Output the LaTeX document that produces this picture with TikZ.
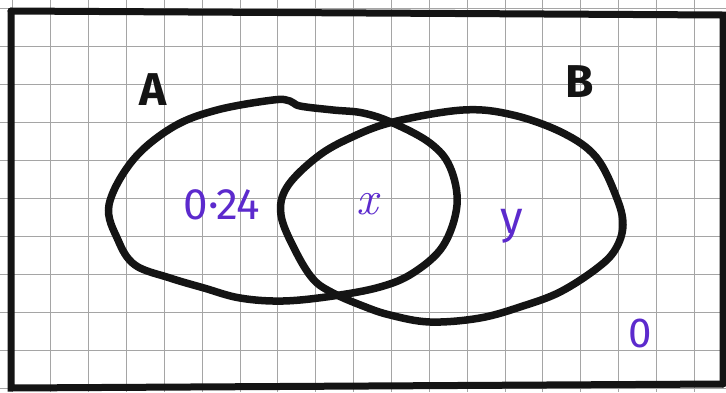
\documentclass[tikz,border=0pt]{standalone}
\usepackage{fontspec}
\setsansfont{Fira Sans}
\definecolor{ink}{RGB}{20,20,20}
\definecolor{pen}{RGB}{92,42,205}
\definecolor{gridc}{RGB}{165,165,165}
\tikzset{
  setline/.style={draw=ink, line width=7.5pt, line cap=round, line join=round},
  frameline/.style={draw=ink, line width=7pt, line cap=round},
  setlabel/.style={text=ink, font=\sffamily\bfseries\fontsize{46}{46}\selectfont, inner sep=0pt},
  vallabel/.style={text=pen, font=\sffamily\fontsize{34}{34}\selectfont, inner sep=0pt}
}
\begin{document}
\begin{tikzpicture}[x=1pt,y=-1pt]
\useasboundingbox (0,0) rectangle (726,392);
\fill[white] (0,0) rectangle (726,392);
% grid paper
\foreach \i in {0,...,19} {
  \draw[gridc, line width=0.9pt] ({12.9+37.85*\i},0) -- ({12.9+37.85*\i},392);
}
\foreach \j in {0,...,10} {
  \draw[gridc, line width=0.9pt] (0,{8.7+37.95*\j}) -- (726,{8.7+37.95*\j});
}
% frame
\coordinate (tl) at (11,11);
\coordinate (tr) at (723,15);
\coordinate (br) at (723,384);
\coordinate (bl) at (11,388);
\draw[frameline] (tl) -- (tr) -- (br);
\draw[frameline] (tl) -- (bl) -- (br);
% set A
\draw[setline] plot[smooth cycle, tension=0.6] coordinates {
  (109,205) (118,240) (135,265) (170,278) (204,288) (240,298) (283,301)
  (333,296) (380,287) (413,273) (443,246) (457,205) (450,167) (430,143)
  (393,123) (363,113) (333,110) (300,106) (290,101) (273,100) (217,110)
  (173,127) (133,160)};
% set B
\draw[setline] plot[smooth cycle, tension=0.6] coordinates {
  (393,122) (463,110) (513,115) (563,133) (596,157) (616,196) (623,225)
  (615,250) (596,269) (560,292) (523,306) (480,318) (430,322) (390,315)
  (363,306) (333,293) (313,279) (295,250) (281,215) (287,187) (317,157)
  (350,138)};
% labels
\node[setlabel] (la) at (153,90) {A};
\node[setlabel] (lb) at (580,82) {B};
\node[vallabel, font=\sffamily\fontsize{44}{44}\selectfont] (v1) at (222,205) {0·24};
\node[text=pen, inner sep=0pt, font=\rmfamily\itshape\fontsize{48}{48}\selectfont] (v2) at (367,204) {x};
\node[vallabel, font=\sffamily\fontsize{46}{46}\selectfont] (v3) at (512,226) {y};
\node[vallabel, font=\sffamily\fontsize{42}{42}\selectfont] (v4) at (640,333) {0};
\end{tikzpicture}
\end{document}
